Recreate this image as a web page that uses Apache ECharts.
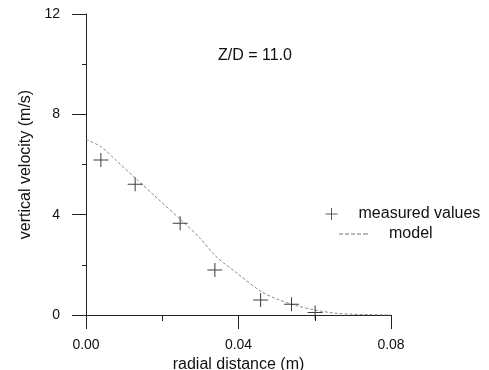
<!DOCTYPE html>
<html><head><meta charset="utf-8">
<script src="https://cdn.jsdelivr.net/npm/echarts@6/dist/echarts.min.js"></script>
<style>html,body{margin:0;padding:0;background:#fff}#c{width:489px;height:370px}</style>
</head><body><div id="c"></div>
<script>
var measuredX = [0.0039, 0.0129, 0.0247, 0.0338, 0.0458, 0.0539, 0.0601];
var measuredY = [6.18, 5.21, 3.66, 1.79, 0.60, 0.43, 0.10];
var modelX = [0, 0.004, 0.008, 0.013, 0.018, 0.025, 0.030, 0.034, 0.040, 0.046, 0.050, 0.055, 0.060, 0.065, 0.070, 0.080];
var modelY = [7.0, 6.7, 6.15, 5.45, 4.75, 3.78, 3.05, 2.35, 1.62, 0.93, 0.64, 0.38, 0.2, 0.08, 0.03, 0.0];
var xTicks = [0, 0.04, 0.08];
var yTicks = [0, 4, 8, 12];
var annotation = 'Z/D = 11.0';

function zip(a, b) { return a.map(function (v, i) { return [v, b[i]]; }); }
var FONT = 'Liberation Sans, Arial, sans-serif';
var cross = 'path://M0,-10 L0,10 M-10,0 L10,0';
var dashIcon = 'path://M0,0h4v1h-4z M6,0h4v1h-4z M12,0h4v1h-4z M18,0h4v1h-4z M24,0h5v1h-5z';

var chart = echarts.init(document.getElementById('c'), null, {renderer: 'canvas'});
chart.setOption({
  animation: false,
  backgroundColor: '#fff',
  grid: {left: 86, right: 98, top: 14, bottom: 55, containLabel: false, outerBoundsMode: 'none'},
  xAxis: {
    type: 'value', min: 0, max: 0.08, interval: 0.04,
    name: 'radial distance (m)', nameLocation: 'middle', nameGap: 35,
    nameTextStyle: {fontFamily: FONT, fontSize: 16, color: '#111'},
    axisLine: {lineStyle: {color: '#222', width: 1}},
    axisTick: {show: true, length: 14, lineStyle: {color: '#222'}},
    minorTick: {show: true, splitNumber: 2, length: 6, lineStyle: {color: '#222'}},
    splitLine: {show: false},
    axisLabel: {margin: 23, fontFamily: FONT, fontSize: 14, color: '#111',
      formatter: function (v) { return xTicks.indexOf(v) >= 0 ? v.toFixed(2) : ''; }}
  },
  yAxis: {
    type: 'value', min: 0, max: 12, interval: 4,
    name: 'vertical velocity (m/s)', nameLocation: 'middle', nameGap: 46, nameRotate: 90,
    nameTextStyle: {fontFamily: FONT, fontSize: 16, color: '#111'},
    axisLine: {lineStyle: {color: '#222', width: 1}},
    axisTick: {show: true, length: 14, lineStyle: {color: '#222'}},
    minorTick: {show: true, splitNumber: 2, length: 4, lineStyle: {color: '#222'}},
    splitLine: {show: false},
    axisLabel: {margin: 26, fontFamily: FONT, fontSize: 14, color: '#111',
      formatter: function (v) { return yTicks.indexOf(v) >= 0 ? String(v) : ''; }}
  },
  legend: [{
    data: [{name: 'measured values', icon: cross,
      itemStyle: {color: 'rgba(0,0,0,0)', borderColor: '#333', borderWidth: 1}}],
    left: 320, top: 201, itemWidth: 12, itemHeight: 12, itemGap: 0,
    textStyle: {fontFamily: FONT, fontSize: 16, color: '#111', padding: [-10, 0, 0, 16]}
  }, {
    data: [{name: 'model', icon: dashIcon, itemStyle: {color: '#777', borderWidth: 0}}],
    left: 334, top: 221, itemWidth: 29, itemHeight: 1,
    textStyle: {fontFamily: FONT, fontSize: 16, color: '#111', padding: [-12, 0, 0, 16]}
  }],
  graphic: [{
    type: 'text', left: 218, top: 48,
    style: {text: annotation, font: '16px ' + FONT, fill: '#111'}
  }],
  series: [{
    name: 'model', type: 'line', data: zip(modelX, modelY),
    smooth: 0.3, showSymbol: false, symbol: 'none',
    lineStyle: {color: '#8a8a8a', width: 1, type: [3, 2]},
    itemStyle: {color: '#8a8a8a'}, z: 2
  }, {
    name: 'measured values', type: 'scatter', data: zip(measuredX, measuredY),
    symbol: cross, symbolSize: [15, 14],
    itemStyle: {color: 'rgba(0,0,0,0)', borderColor: '#111', borderWidth: 1},
    z: 3
  }]
});
</script></body></html>
